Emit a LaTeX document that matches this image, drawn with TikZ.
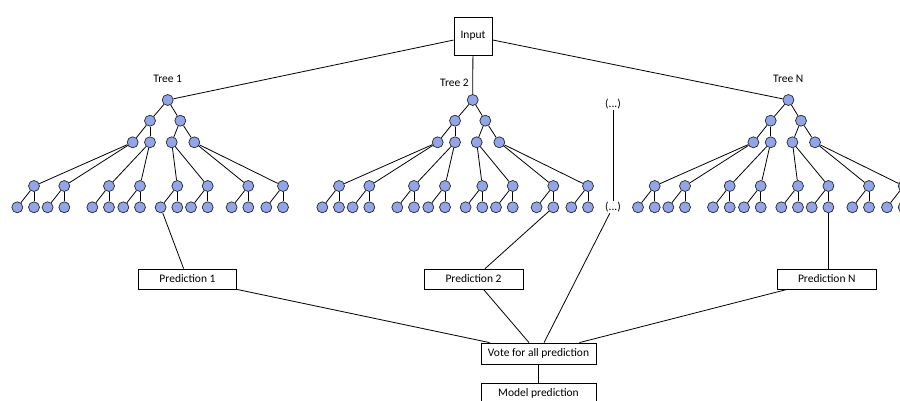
\documentclass[tikz,border=0pt]{standalone}
\usepackage{fontspec}
\setmainfont{Carlito}
\usetikzlibrary{calc}
\definecolor{nodefill}{RGB}{145,165,232}
\definecolor{nodeline}{RGB}{40,40,40}
\begin{document}
\begin{tikzpicture}[x=1pt,y=-1pt,
  tn/.style={circle,draw=nodeline,fill=nodefill,line width=0.7pt,minimum size=11pt,inner sep=0pt},
  box/.style={draw,line width=0.8pt,font=\fontsize{11.5}{13}\selectfont,inner sep=0pt,minimum height=20pt},
  lbl/.style={font=\fontsize{11.5}{13}\selectfont,inner sep=1pt},
  edge/.style={line width=0.8pt}]
\useasboundingbox (0,0) rectangle (900,401);
\clip (0,0) rectangle (900,401);

\node[box,minimum width=38pt,minimum height=38pt] (input) at (473,36) {Input};
\node[box,minimum width=98pt] (p1) at (187.5,279) {Prediction 1};
\node[box,minimum width=99pt] (p2) at (473.5,279) {Prediction 2};
\node[box,minimum width=98.5pt] (pN) at (826.8,279) {Prediction N};
\node[box,minimum width=115pt,minimum height=21pt] (vote) at (538.5,353.5) {Vote for all prediction};
\node[box,minimum width=115pt,minimum height=21pt] (model) at (538.5,393.5) {Model prediction};

\foreach \t/\dx in {1/0,2/305,N/620.7}{
  \node[tn] (t\t-R) at (\dx+167.7,100) {};
  \node[tn] (t\t-A1) at (\dx+150,120.7) {};
  \node[tn] (t\t-A2) at (\dx+180.3,120.7) {};
  \draw[edge] (t\t-R) -- (t\t-A1) (t\t-R) -- (t\t-A2);
  \foreach \i/\bx/\p in {1/132.7/1,2/150/1,3/171.7/2,4/194.3/2}{
    \node[tn] (t\t-B\i) at (\dx+\bx,142.3) {};
    \draw[edge] (t\t-A\p) -- (t\t-B\i);
  }
  \foreach \i/\cx/\p in {1/34/1,2/64.3/1,3/109/2,4/140/2,5/177.3/3,6/207.7/3,7/248.3/4,8/283/4}{
    \node[tn] (t\t-C\i) at (\dx+\cx,186) {};
    \node[tn] (t\t-D\i-a) at (\dx+\cx-16.7,207.3) {};
    \node[tn] (t\t-D\i-b) at (\dx+\cx,207.3) {};
    \draw[edge] (t\t-B\p) -- (t\t-C\i);
    \draw[edge] (t\t-C\i) -- (t\t-D\i-a);
    \draw[edge] (t\t-C\i) -- (t\t-D\i-b);
  }
}

\node[lbl] (l1) at (167.7,79) {Tree 1};
\node[lbl] (l2) at (454.5,82.5) {Tree 2};
\node[lbl] (lN) at (788.3,79) {Tree N};
\node[lbl] (dtop) at (613,104) {(...)};
\node[lbl] (dbot) at (613,207) {(...)};

\draw[edge] (input) -- (t1-R);
\draw[edge] (input) -- (tN-R);
\draw[edge] (input) -- (t2-R);
\draw[edge] (t1-D5-a) -- (p1);
\draw[edge] (t2-D7-b) -- (p2);
\draw[edge] (tN-D6-b) -- (tN-D6-b |- pN.north);
\draw[edge] (dtop) -- (dbot);
\draw[edge] (dbot) -- (vote);
\draw[edge] (p1.south east) -- ([xshift=9pt]vote.north west);
\draw[edge] ([xshift=10pt]p2.south) -- ([xshift=-9.5pt]vote.north);
\draw[edge] ([xshift=10pt]pN.south west) -- ([xshift=-17pt]vote.north east);
\draw[edge] (vote) -- (model);
\end{tikzpicture}
\end{document}
